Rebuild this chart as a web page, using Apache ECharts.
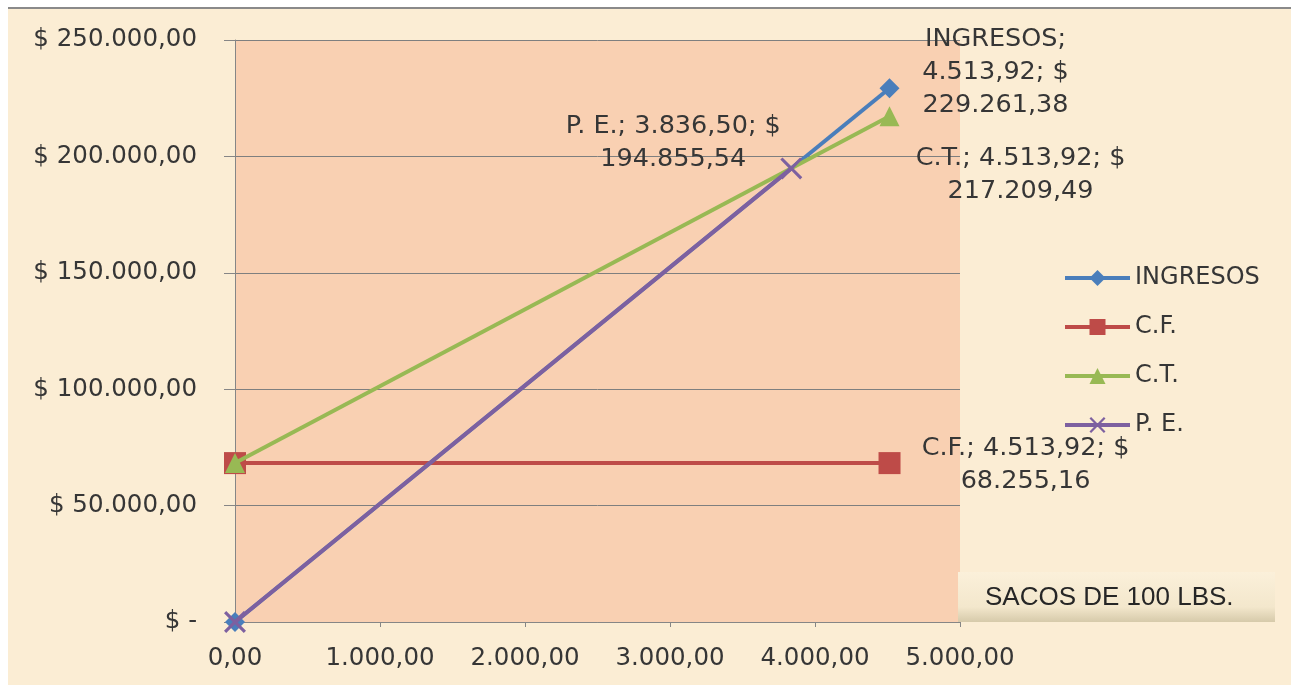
<!DOCTYPE html>
<html><head><meta charset="utf-8">
<script src="https://cdn.jsdelivr.net/npm/echarts@6/dist/echarts.min.js"></script>
<style>html,body{margin:0;padding:0;background:#fff}#c{width:1291px;height:685px}</style>
</head><body><div id="c"></div>
<script>
const seriesNames = ['INGRESOS', 'C.F.', 'C.T.', 'P. E.'];
const ingresosX = [0, 4513.92];
const ingresosY = [0, 229261.38];
const cfX = [0, 4513.92];
const cfY = [68255.16, 68255.16];
const ctX = [0, 4513.92];
const ctY = [68255.16, 217209.49];
const peX = [0, 3836.50];
const peY = [0, 194855.54];
const yTickLabels = ['$ -', '$ 50.000,00', '$ 100.000,00', '$ 150.000,00', '$ 200.000,00', '$ 250.000,00'];
const xTickLabels = ['0,00', '1.000,00', '2.000,00', '3.000,00', '4.000,00', '5.000,00'];
const xAxisTitle = 'SACOS DE 100 LBS.';

function fmt(v) {
  const parts = v.toFixed(2).split('.');
  parts[0] = parts[0].replace(/\B(?=(\d{3})+(?!\d))/g, '.');
  return parts[0] + ',' + parts[1];
}
function pairs(xs, ys) { return xs.map((x, i) => [x, ys[i]]); }

const FONT = 'DejaVu Sans';
const TXT = '#363636';
const labelBase = { show: true, position: 'inside', align: 'center', verticalAlign: 'middle',
  fontFamily: FONT, fontSize: 25.5, color: TXT, lineHeight: 33 };

function withEndLabel(data, name, sep, offset) {
  return data.map((p, i) => {
    if (i !== data.length - 1) return { value: p };
    return { value: p, label: Object.assign({}, labelBase, { offset: offset,
      formatter: name + sep + fmt(p[0]) + '; $\n' + fmt(p[1]) }) };
  });
}

const crossPath = 'path://M0,1 L1,0 L5,4 L9,0 L10,1 L6,5 L10,9 L9,10 L5,6 L1,10 L0,9 L4,5 Z';

const chart = echarts.init(document.getElementById('c'), null, { renderer: 'canvas' });
chart.setOption({
  backgroundColor: '#FBEDD4',
  animation: false,
  graphic: [
    { type: 'rect', shape: { x: 0, y: 0, width: 1291, height: 7 }, style: { fill: '#ffffff' }, silent: true },
    { type: 'rect', shape: { x: 0, y: 0, width: 8, height: 685 }, style: { fill: '#ffffff' }, silent: true },
    { type: 'line', shape: { x1: 8, y1: 8, x2: 1291, y2: 8 }, style: { stroke: '#8a8a8a', lineWidth: 2 }, silent: true },
    { type: 'rect', shape: { x: 958, y: 572, width: 317, height: 50 },
      style: { fill: new echarts.graphic.LinearGradient(0, 0, 0, 1, [
        { offset: 0, color: '#FBF0DA' }, { offset: 0.7, color: '#F3E7CC' }, { offset: 1, color: '#D6CAAA' }]) }, silent: true },
    { type: 'text', left: 985, top: 585,
      style: { text: xAxisTitle, fontFamily: 'Liberation Sans', fontSize: 26, fill: '#262626' }, silent: true }
  ],
  grid: { left: 235, right: 331, top: 40, bottom: 63, show: true, backgroundColor: '#F9D0B2', borderWidth: 0 },
  legend: {
    orient: 'vertical', left: 1063, top: 266, padding: 0, itemWidth: 65, itemHeight: 20, itemGap: 25,
    data: seriesNames,
    lineStyle: { width: 4 },
    textStyle: { fontFamily: FONT, fontSize: 24, lineHeight: 24, color: TXT }
  },
  xAxis: {
    type: 'value', min: 0, max: 5000, interval: 1000,
    axisLine: { show: true, lineStyle: { color: '#868686', width: 1 } },
    axisTick: { show: true, inside: false, length: 5, lineStyle: { color: '#868686' } },
    splitLine: { show: false },
    axisLabel: { margin: 24, fontFamily: FONT, fontSize: 24.5, color: TXT,
      formatter: v => xTickLabels[Math.round(v / 1000)] }
  },
  yAxis: {
    type: 'value', min: 0, max: 250000, interval: 50000,
    axisLine: { show: true, lineStyle: { color: '#868686', width: 1 } },
    axisTick: { show: true, length: 11, lineStyle: { color: '#868686' } },
    splitLine: { show: true, lineStyle: { color: '#7f7f7f', width: 1 } },
    axisLabel: { margin: 38, fontFamily: FONT, fontSize: 24.5, color: TXT,
      formatter: v => yTickLabels[Math.round(v / 50000)] }
  },
  series: [
    { name: seriesNames[0], type: 'line', symbol: 'diamond', symbolSize: 20,
      itemStyle: { color: '#4A7EBB' }, lineStyle: { width: 4, color: '#4A7EBB' },
      data: withEndLabel(pairs(ingresosX, ingresosY), seriesNames[0], ';\n', [106, -16]), z: 3 },
    { name: seriesNames[1], type: 'line', symbol: 'rect', symbolSize: 22,
      itemStyle: { color: '#BE4B48' }, lineStyle: { width: 4, color: '#BE4B48' },
      data: withEndLabel(pairs(cfX, cfY), seriesNames[1], '; ', [136, 2]), z: 2 },
    { name: seriesNames[2], type: 'line', symbol: 'triangle', symbolSize: 20,
      itemStyle: { color: '#98B954' }, lineStyle: { width: 4, color: '#98B954' },
      data: withEndLabel(pairs(ctX, ctY), seriesNames[2], '; ', [131, 59]), z: 4 },
    { name: seriesNames[3], type: 'line', symbol: crossPath, symbolSize: 22,
      itemStyle: { color: '#7D60A0' }, lineStyle: { width: 4, color: '#7D60A0' },
      data: withEndLabel(pairs(peX, peY), seriesNames[3], '; ', [-118, -26]), z: 5 }
  ]
});
</script></body></html>
